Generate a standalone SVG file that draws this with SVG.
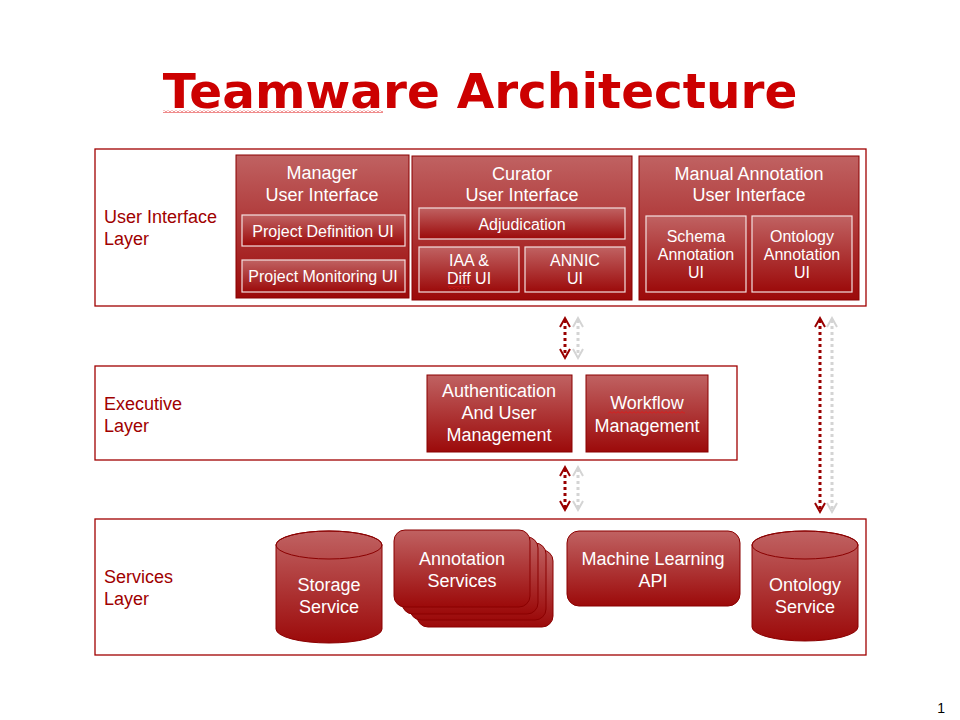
<svg xmlns="http://www.w3.org/2000/svg" width="960" height="720" viewBox="0 0 960 720">
<defs>
<linearGradient id="g" x1="0" y1="0" x2="0" y2="1">
<stop offset="0" stop-color="#C06262"/>
<stop offset="1" stop-color="#9C0A0A"/>
</linearGradient>
<pattern id="zz" width="4" height="3" patternUnits="userSpaceOnUse"><path d="M0 2.5 L2 0.5 L4 2.5" fill="none" stroke="#E01818" stroke-width="1"/></pattern>
<style>
.layer{fill:#fff;stroke:#A00000;stroke-width:1.3}
.lt{font-family:"Liberation Sans",Arial,sans-serif;font-size:18px;fill:#A00000}
.box{fill:url(#g);stroke:#8A0000;stroke-width:1}
.in{fill:url(#g);stroke:#F4E0E0;stroke-width:1.2}
.t{font-family:"Liberation Sans",Arial,sans-serif;font-size:18px;fill:#fff;text-anchor:middle}
.s{font-family:"Liberation Sans",Arial,sans-serif;font-size:16px;fill:#fff;text-anchor:middle}
.dk{stroke:#990000;stroke-width:3;stroke-dasharray:3 3;fill:none}
.gr{stroke:#D4D4D4;stroke-width:3;stroke-dasharray:3 3;fill:none}
.hd{stroke:#990000;stroke-width:2;fill:none}
.hg{stroke:#D4D4D4;stroke-width:2;fill:none}
.sq{fill:url(#zz)}
</style>
</defs>
<rect width="960" height="720" fill="#fff"/>
<text x="480" y="108" text-anchor="middle" font-family="'DejaVu Sans',Verdana,sans-serif" font-weight="bold" font-size="48.5" fill="#CC0000">Teamware Architecture</text>
<rect class="sq" x="163" y="110" width="220" height="3"/>

<g id="ui-layer">
<rect class="layer" x="95" y="149" width="771" height="157"/>
<text class="lt" x="104" y="223">User Interface</text>
<text class="lt" x="104" y="245">Layer</text>
</g>
<g id="exec-layer">
<rect class="layer" x="95" y="366" width="642" height="94"/>
<text class="lt" x="104" y="410">Executive</text>
<text class="lt" x="104" y="432">Layer</text>
</g>
<g id="svc-layer">
<rect class="layer" x="95" y="519" width="771" height="136"/>
<text class="lt" x="104" y="583">Services</text>
<text class="lt" x="104" y="605">Layer</text>
</g>

<g id="manager-ui">
<rect class="box" x="236" y="155" width="173" height="143"/>
<text class="t" x="322" y="179">Manager</text>
<text class="t" x="322" y="201">User Interface</text>
</g>
<g id="project-definition-ui">
<rect class="in" x="242" y="215" width="163" height="31"/>
<text class="s" x="323" y="237">Project Definition UI</text>
</g>
<g id="project-monitoring-ui">
<rect class="in" x="242" y="260" width="163" height="32"/>
<text class="s" x="323" y="282">Project Monitoring UI</text>
</g>

<g id="curator-ui">
<rect class="box" x="412" y="156" width="220" height="144"/>
<text class="t" x="522" y="180">Curator</text>
<text class="t" x="522" y="201">User Interface</text>
</g>
<g id="adjudication">
<rect class="in" x="419" y="208" width="206" height="31"/>
<text class="s" x="522" y="230">Adjudication</text>
</g>
<g id="iaa-diff-ui">
<rect class="in" x="419" y="247" width="100" height="45"/>
<text class="s" x="469" y="266">IAA &amp;</text>
<text class="s" x="469" y="284">Diff UI</text>
<rect class="sq" x="448" y="286" width="22" height="3"/>
</g>
<g id="annic-ui">
<rect class="in" x="525" y="247" width="100" height="45"/>
<text class="s" x="575" y="266">ANNIC</text>
<text class="s" x="575" y="284">UI</text>
</g>

<g id="manual-annotation-ui">
<rect class="box" x="639" y="156" width="220" height="144"/>
<text class="t" x="749" y="180">Manual Annotation</text>
<text class="t" x="749" y="201">User Interface</text>
</g>
<g id="schema-annotation-ui">
<rect class="in" x="646" y="216" width="100" height="76"/>
<text class="s" x="696" y="242">Schema</text>
<text class="s" x="696" y="260">Annotation</text>
<text class="s" x="696" y="278">UI</text>
</g>
<g id="ontology-annotation-ui">
<rect class="in" x="752" y="216" width="100" height="76"/>
<text class="s" x="802" y="242">Ontology</text>
<text class="s" x="802" y="260">Annotation</text>
<text class="s" x="802" y="278">UI</text>
</g>

<g id="auth">
<rect class="box" x="427" y="375" width="145" height="77"/>
<text class="t" x="499" y="397">Authentication</text>
<text class="t" x="499" y="419">And User</text>
<text class="t" x="499" y="441">Management</text>
</g>
<g id="workflow">
<rect class="box" x="586" y="375" width="122" height="77"/>
<text class="t" x="647" y="409">Workflow</text>
<text class="t" x="647" y="432">Management</text>
<rect class="sq" x="608" y="411" width="77" height="3"/>
</g>

<g id="storage-service">
<path class="box" d="M276 545 V629 A53 14 0 0 0 382 629 V545 A53 14 0 0 0 276 545 Z"/>
<ellipse cx="329" cy="545" rx="53" ry="14" fill="none" stroke="#8A0000" stroke-width="1"/>
<text class="t" x="329" y="591">Storage</text>
<text class="t" x="329" y="613">Service</text>
</g>
<g id="annotation-services">
<rect class="box" x="417" y="550" width="136" height="77" rx="11"/>
<rect class="box" x="410" y="543" width="136" height="77" rx="11"/>
<rect class="box" x="402" y="537" width="136" height="77" rx="11"/>
<rect class="box" x="394" y="530" width="136" height="77" rx="11"/>
<text class="t" x="462" y="565">Annotation</text>
<text class="t" x="462" y="587">Services</text>
</g>
<g id="machine-learning-api">
<rect class="box" x="567" y="531" width="173" height="75" rx="12"/>
<text class="t" x="653" y="565">Machine Learning</text>
<text class="t" x="653" y="587">API</text>
</g>
<g id="ontology-service">
<path class="box" d="M752 545 V627 A53 14 0 0 0 858 627 V545 A53 14 0 0 0 752 545 Z"/>
<ellipse cx="805" cy="545" rx="53" ry="14" fill="none" stroke="#8A0000" stroke-width="1"/>
<text class="t" x="805" y="591">Ontology</text>
<text class="t" x="805" y="613">Service</text>
</g>

<g id="connectors">
<line class="dk" x1="565" y1="320" x2="565" y2="357"/>
<polyline class="hd" points="560,327 565,318 570,327"/>
<polyline class="hd" points="560,349 565,358 570,349"/>
<line class="gr" x1="578" y1="320" x2="578" y2="357"/>
<polyline class="hg" points="573,327 578,318 583,327"/>
<polyline class="hg" points="573,349 578,358 583,349"/>

<line class="dk" x1="565" y1="469" x2="565" y2="509"/>
<polyline class="hd" points="560,476 565,467 570,476"/>
<polyline class="hd" points="560,501 565,510 570,501"/>
<line class="gr" x1="578" y1="469" x2="578" y2="509"/>
<polyline class="hg" points="573,476 578,467 583,476"/>
<polyline class="hg" points="573,501 578,510 583,501"/>

<line class="dk" x1="820" y1="320" x2="820" y2="510"/>
<polyline class="hd" points="815,327 820,318 825,327"/>
<polyline class="hd" points="815,503 820,512 825,503"/>
<line class="gr" x1="832" y1="320" x2="832" y2="510"/>
<polyline class="hg" points="827,327 832,318 837,327"/>
<polyline class="hg" points="827,503 832,512 837,503"/>
</g>

<text x="945" y="713" text-anchor="end" font-family="'Liberation Sans',Arial,sans-serif" font-size="14" fill="#000">1</text>
</svg>
